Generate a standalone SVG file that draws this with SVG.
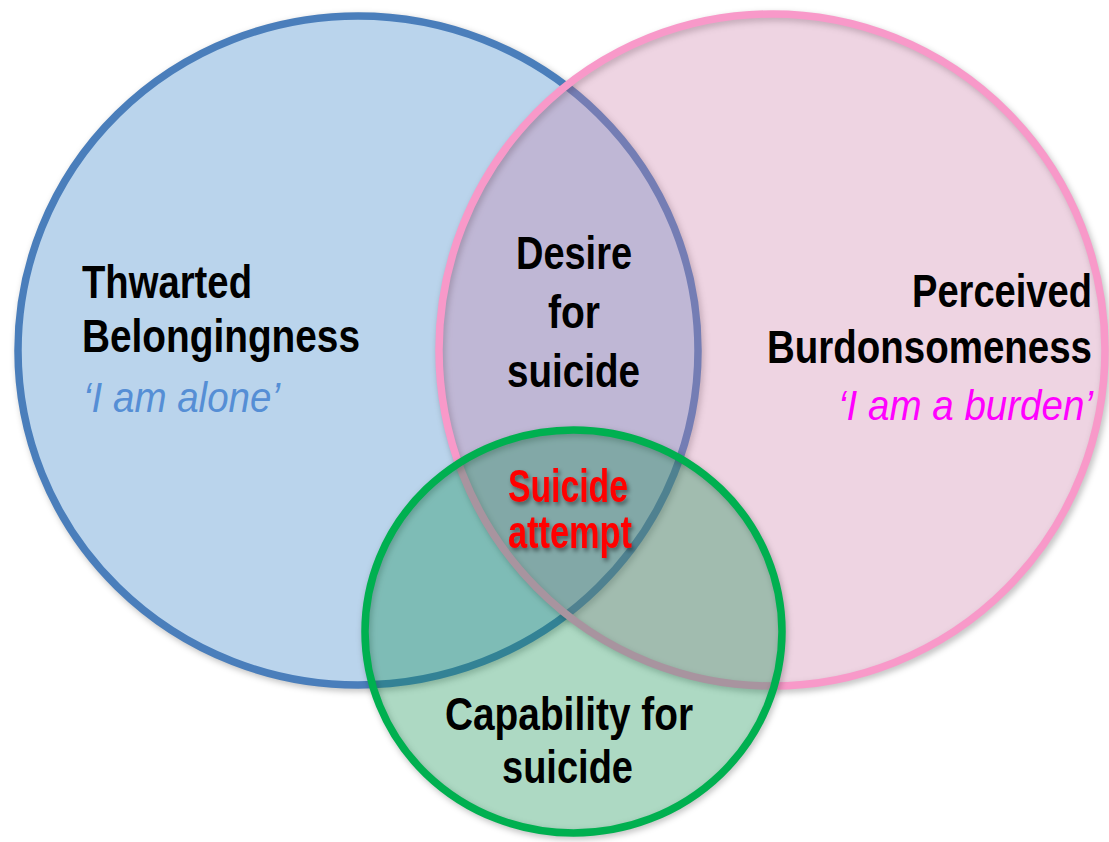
<svg xmlns="http://www.w3.org/2000/svg" width="1109" height="842" viewBox="0 0 1109 842">
  <defs>
    <filter id="shadow" x="-10%" y="-10%" width="120%" height="120%">
      <feGaussianBlur stdDeviation="3"/>
    </filter>
    <filter id="textshadow" x="-10%" y="-20%" width="130%" height="150%">
      <feDropShadow dx="2" dy="3" stdDeviation="2" flood-color="#000" flood-opacity="0.45"/>
    </filter>
  </defs>
  <style>
    .shadow { fill: none; stroke: #000; stroke-opacity: 0.25; stroke-width: 8; filter: url(#shadow); }
    .lbl { font-family: "Liberation Sans", Arial, sans-serif; font-weight: bold; font-size: 47px; fill: #000; }
    .quote { font-family: "Liberation Sans", Arial, sans-serif; font-style: italic; font-size: 42px; }
    .red { font-family: "Liberation Sans", Arial, sans-serif; font-weight: bold; font-size: 47px; fill: #FF0000; filter: url(#textshadow); }
  </style>
  <rect width="1109" height="842" fill="#FFFFFF"/>

  <g id="belongingness">
    <ellipse class="shadow" cx="360" cy="353" rx="340" ry="334.5"/>
    <ellipse cx="358" cy="350.5" rx="340" ry="334.5" fill="#BAD4EC" stroke="#4A7EBB" stroke-width="7.5"/>
    <text class="lbl" x="82" y="298" textLength="170" lengthAdjust="spacingAndGlyphs">Thwarted</text>
    <text class="lbl" x="82" y="352" textLength="278" lengthAdjust="spacingAndGlyphs">Belongingness</text>
    <text class="quote" x="83" y="412" fill="#558ED5" textLength="197" lengthAdjust="spacingAndGlyphs">‘I am alone’</text>
  </g>

  <g id="burdensomeness">
    <ellipse class="shadow" cx="774" cy="353" rx="333" ry="336"/>
    <ellipse cx="772" cy="350" rx="333" ry="336" fill="rgb(203,125,167)" fill-opacity="0.33" stroke="#F899C9" stroke-width="7.5"/>
    <text class="lbl" x="912" y="307" textLength="180" lengthAdjust="spacingAndGlyphs">Perceived</text>
    <text class="lbl" x="767" y="363" textLength="325" lengthAdjust="spacingAndGlyphs">Burdonsomeness</text>
    <text class="quote" x="838" y="420" fill="#FF00FF" textLength="255" lengthAdjust="spacingAndGlyphs">‘I am a burden’</text>
  </g>

  <g id="desire">
    <text class="lbl" x="516" y="269" textLength="116" lengthAdjust="spacingAndGlyphs">Desire</text>
    <text class="lbl" x="548" y="328" textLength="52" lengthAdjust="spacingAndGlyphs">for</text>
    <text class="lbl" x="507" y="387" textLength="133" lengthAdjust="spacingAndGlyphs">suicide</text>
  </g>

  <g id="capability">
    <ellipse class="shadow" cx="575" cy="634" rx="208.5" ry="201.5"/>
    <ellipse cx="573.5" cy="631.5" rx="208.5" ry="201.5" fill="rgb(6,140,73)" fill-opacity="0.33" stroke="#00B050" stroke-width="7.5"/>
    <text class="lbl" x="445" y="730" textLength="248" lengthAdjust="spacingAndGlyphs">Capability for</text>
    <text class="lbl" x="502" y="783" textLength="131" lengthAdjust="spacingAndGlyphs">suicide</text>
  </g>

  <g id="attempt">
    <text class="red" x="508" y="502" textLength="120" lengthAdjust="spacingAndGlyphs">Suicide</text>
    <text class="red" x="508" y="548" textLength="124" lengthAdjust="spacingAndGlyphs">attempt</text>
  </g>

  <g id="connectors"/>
</svg>
